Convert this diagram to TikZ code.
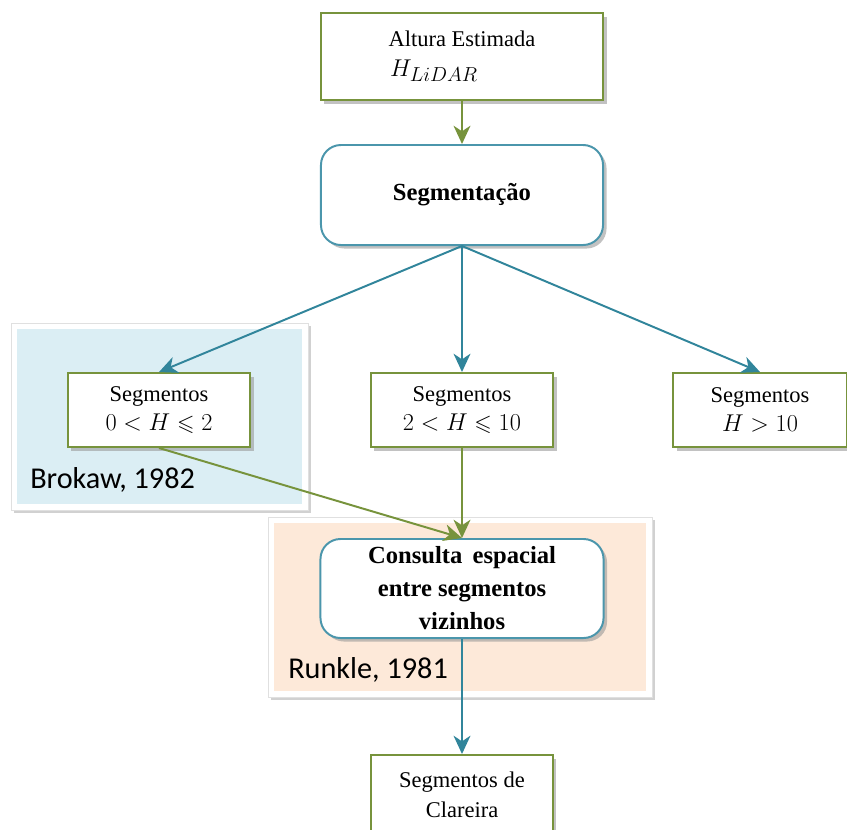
\documentclass[tikz,border=0pt]{standalone}
\usepackage{amsmath, amssymb}
\usepackage{fontspec}
\setmainfont{Liberation Serif}
\newfontfamily\labelfont{Carlito}
\usepackage{tikz}
\usetikzlibrary{arrows.meta}
\usetikzlibrary{shadows}

\definecolor{boxgreen}{RGB}{119,147,60}
\definecolor{boxteal}{RGB}{75,150,172}
\definecolor{arrowteal}{RGB}{49,133,155}
\definecolor{bgblue}{RGB}{219,238,244}
\definecolor{bgpeach}{RGB}{253,233,217}

\begin{document}
\begin{tikzpicture}[x=0.025cm,y=-0.025cm,
    boxshadow/.style={drop shadow={shadow xshift=2.5pt,shadow yshift=-2.5pt,fill=black!40,opacity=.6}},
    greenbox/.style={draw=boxgreen,line width=1.4pt,fill=white,inner sep=0pt,align=center,
        font=\fontsize{16}{21}\selectfont,boxshadow},
    tealbox/.style={draw=boxteal,line width=1.4pt,fill=white,rounded corners=0.5cm,inner sep=0pt,
        align=center,font=\fontsize{17.5}{23.5}\selectfont\bfseries,boxshadow},
    region/.style={fill=white,draw=black!12,line width=0.5pt,inner sep=0pt,
        drop shadow={shadow xshift=2pt,shadow yshift=-2pt,fill=black!30,opacity=.6},
        path picture={\fill[#1] ([shift={(4pt,-4pt)}]path picture bounding box.north west)
            rectangle ([shift={(-4pt,4pt)}]path picture bounding box.south east);}},
    greenarrow/.style={draw=boxgreen,line width=1.4pt,-{Stealth[length=13pt,width=12pt,inset=4pt]}},
    tealarrow/.style={draw=arrowteal,line width=1.4pt,-{Stealth[length=13pt,width=12pt,inset=4pt]}},
    reflabel/.style={font=\labelfont\fontsize{21.5}{24}\selectfont,anchor=west,inner sep=0pt}]

    \useasboundingbox (0,0) rectangle (847,829);

    % background regions
    \node[region=bgblue,minimum width=7.425cm,minimum height=4.675cm] (brokawbg) at (159.5,416.5) {};
    \node[region=bgpeach,minimum width=9.6cm,minimum height=4.5cm]    (runklebg) at (460,607) {};
    \node[reflabel] (brokaw) at (30,480) {Brokaw, 1982};
    \node[reflabel] (runkle) at (288,670) {Runkle, 1981};

    % boxes
    \node[greenbox,minimum width=7.05cm,minimum height=2.175cm] (altura) at (462,56.5)
        {Altura Estimada\\{\fontsize{19}{21}\selectfont$H_{LiDAR}$}\hspace*{1.4cm}};
    \node[tealbox,minimum width=7.05cm,minimum height=2.5cm]    (segm)   at (462,195) {Segmenta\c{c}\~ao};
    \node[greenbox,minimum width=4.55cm,minimum height=1.85cm]  (seg1)   at (159,410)
        {Segmentos\\$0 < H \leqslant 2$};
    \node[greenbox,minimum width=4.55cm,minimum height=1.85cm]  (seg2)   at (462,410)
        {Segmentos\\$2 < H \leqslant 10$};
    \node[greenbox,minimum width=4.35cm,minimum height=1.85cm]  (seg3)   at (760,410)
        {Segmentos\\$H > 10$};
    \node[tealbox,minimum width=7.075cm,minimum height=2.475cm] (consulta) at (462,588.5)
        {Consulta\, espacial\\entre segmentos\\vizinhos};
    \node[greenbox,minimum width=4.525cm,minimum height=2cm]    (clareira) at (462,795)
        {Segmentos de\\Clareira};

    % connectors
    \draw (altura) edge[greenarrow] (segm);
    \draw (segm.south) edge[tealarrow] (seg1.north);
    \draw (segm.south) edge[tealarrow] (seg2.north);
    \draw (segm.south) edge[tealarrow] (seg3.north);
    \draw (seg1.south) edge[greenarrow] (consulta.north);
    \draw (seg2.south) edge[greenarrow] (consulta.north);
    \draw (consulta) edge[tealarrow] (clareira);
\end{tikzpicture}
\end{document}
